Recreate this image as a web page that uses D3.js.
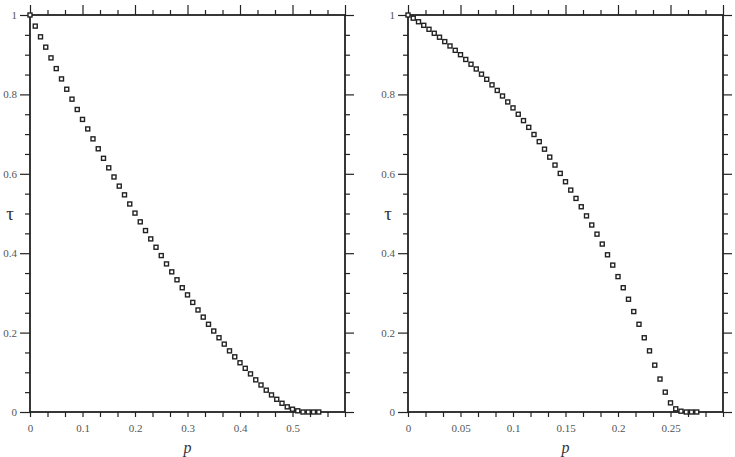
<!DOCTYPE html>
<html>
<head>
<meta charset="utf-8">
<script src="https://cdn.jsdelivr.net/npm/d3@7"></script>
<style>
  body { margin: 0; background: #fff; }
  svg { display: block; }
  .tick text { font-family: "Liberation Serif", "Times New Roman", Times, serif; font-size: 11px; fill: #555; }
  .tick line { stroke: #222; stroke-width: 1.2; }
  .domain { display: none; }
  .title { font-family: "Liberation Serif", "Times New Roman", Times, serif; fill: #333; }
</style>
</head>
<body>
<div id="chart"></div>
<script>
// left panel: tau vs p
const leftP = [0, 0.01, 0.02, 0.03, 0.04, 0.05, 0.06, 0.07, 0.08, 0.09,
  0.10, 0.11, 0.12, 0.13, 0.14, 0.15, 0.16, 0.17, 0.18, 0.19,
  0.20, 0.21, 0.22, 0.23, 0.24, 0.25, 0.26, 0.27, 0.28, 0.29,
  0.30, 0.31, 0.32, 0.33, 0.34, 0.35, 0.36, 0.37, 0.38, 0.39,
  0.40, 0.41, 0.42, 0.43, 0.44, 0.45, 0.46, 0.47, 0.48, 0.49,
  0.50, 0.51, 0.52, 0.53, 0.54, 0.55];
const leftTau = [1.000, 0.972, 0.945, 0.919, 0.892, 0.865, 0.839, 0.813, 0.788, 0.762,
  0.737, 0.713, 0.688, 0.663, 0.639, 0.615, 0.592, 0.569, 0.547, 0.524,
  0.501, 0.479, 0.457, 0.436, 0.415, 0.394, 0.373, 0.353, 0.333, 0.313,
  0.295, 0.276, 0.257, 0.239, 0.221, 0.204, 0.187, 0.171, 0.154, 0.139,
  0.124, 0.110, 0.096, 0.081, 0.068, 0.055, 0.043, 0.032, 0.022, 0.013,
  0.007, 0.003, 0, 0, 0, 0];

// right panel: tau vs p
const rightP = [0, 0.005, 0.010, 0.015, 0.020, 0.025, 0.030, 0.035, 0.040, 0.045,
  0.050, 0.055, 0.060, 0.065, 0.070, 0.075, 0.080, 0.085, 0.090, 0.095,
  0.100, 0.105, 0.110, 0.115, 0.120, 0.125, 0.130, 0.135, 0.140, 0.145,
  0.150, 0.155, 0.160, 0.165, 0.170, 0.175, 0.180, 0.185, 0.190, 0.195,
  0.200, 0.205, 0.210, 0.215, 0.220, 0.225, 0.230, 0.235, 0.240, 0.245,
  0.250, 0.255, 0.260, 0.265, 0.270, 0.275];
const rightTau = [1.000, 0.992, 0.983, 0.974, 0.964, 0.954, 0.944, 0.933, 0.922, 0.911,
  0.900, 0.888, 0.876, 0.864, 0.851, 0.838, 0.824, 0.810, 0.796, 0.781,
  0.766, 0.750, 0.734, 0.717, 0.699, 0.681, 0.662, 0.642, 0.622, 0.601,
  0.580, 0.559, 0.538, 0.517, 0.494, 0.471, 0.448, 0.423, 0.396, 0.370,
  0.341, 0.313, 0.284, 0.253, 0.221, 0.187, 0.154, 0.118, 0.083, 0.050,
  0.023, 0.008, 0.002, 0, 0, 0];

// tick values
const leftXMajor = [0, 0.1, 0.2, 0.3, 0.4, 0.5, 0.6];
const leftXLabels = ['0', '0.1', '0.2', '0.3', '0.4', '0.5', ''];
const rightXMajor = [0, 0.05, 0.1, 0.15, 0.2, 0.25, 0.3];
const rightXLabels = ['0', '0.05', '0.1', '0.15', '0.2', '0.25', ''];
const yMajor = [0, 0.2, 0.4, 0.6, 0.8, 1];
const yLabels = ['0', '0.2', '0.4', '0.6', '0.8', '1'];

const width = 735;
const height = 457;

const svg = d3.select('#chart')
  .append('svg')
  .attr('width', width)
  .attr('height', height);

function minorTicks(major, n) {
  const out = [];
  for (let i = 0; i < major.length - 1; i++) {
    const step = (major[i + 1] - major[i]) / n;
    for (let k = 1; k < n; k++) out.push(major[i] + k * step);
  }
  return out;
}

function drawPanel(left, right, xMax, xMajor, xLabels, ps, taus) {
  const top = 15;
  const bottom = 412;

  const x = d3.scaleLinear().domain([0, xMax]).range([left, right]);
  const y = d3.scaleLinear().domain([0, 1]).range([bottom, top]);
  const xMinor = minorTicks(xMajor, 3);
  const yMinor = minorTicks(yMajor, 4);

  const g = svg.append('g');

  // bottom axis
  g.append('g')
    .attr('transform', `translate(0,${bottom})`)
    .call(d3.axisBottom(x).tickValues(xMajor).tickSize(5).tickPadding(7)
      .tickFormat((d, i) => xLabels[i]));
  g.append('g')
    .attr('transform', `translate(0,${bottom})`)
    .call(d3.axisBottom(x).tickValues(xMinor).tickSize(5).tickFormat(''));

  // top axis
  g.append('g')
    .attr('transform', `translate(0,${top})`)
    .call(d3.axisTop(x).tickValues(xMajor).tickSize(10).tickFormat(''));
  g.append('g')
    .attr('transform', `translate(0,${top})`)
    .call(d3.axisTop(x).tickValues(xMinor).tickSize(5).tickFormat(''));

  // left axis
  g.append('g')
    .attr('transform', `translate(${left},0)`)
    .call(d3.axisLeft(y).tickValues(yMajor).tickSize(10).tickPadding(3)
      .tickFormat((d, i) => yLabels[i]));
  g.append('g')
    .attr('transform', `translate(${left},0)`)
    .call(d3.axisLeft(y).tickValues(yMinor).tickSize(5).tickFormat(''));

  // right axis
  g.append('g')
    .attr('transform', `translate(${right},0)`)
    .call(d3.axisRight(y).tickValues(yMajor).tickSize(9).tickFormat(''));
  g.append('g')
    .attr('transform', `translate(${right},0)`)
    .call(d3.axisRight(y).tickValues(yMinor).tickSize(5).tickFormat(''));

  // frame
  g.append('rect')
    .attr('x', left)
    .attr('y', top)
    .attr('width', right - left)
    .attr('height', bottom - top)
    .attr('fill', 'none')
    .attr('stroke', '#222')
    .attr('stroke-width', 1.8);

  // markers
  const s = 4;
  g.selectAll('.pt')
    .data(ps.map((p, i) => ({ p: p, t: taus[i] })))
    .enter()
    .append('rect')
    .attr('class', 'pt')
    .attr('x', d => x(d.p) - s / 2)
    .attr('y', d => y(d.t) - s / 2)
    .attr('width', s)
    .attr('height', s)
    .attr('fill', '#fff')
    .attr('stroke', '#222')
    .attr('stroke-width', 1.4);

  // axis titles
  g.append('text')
    .attr('class', 'title')
    .attr('x', left - 20)
    .attr('y', y(0.5) + 6)
    .attr('text-anchor', 'middle')
    .style('font-size', '19px')
    .text('τ');

  g.append('text')
    .attr('class', 'title')
    .attr('x', (left + right) / 2)
    .attr('y', 453)
    .attr('text-anchor', 'middle')
    .style('font-style', 'italic')
    .style('font-size', '16px')
    .text('p');
}

drawPanel(30, 345, 0.6, leftXMajor, leftXLabels, leftP, leftTau);
drawPanel(408, 723, 0.3, rightXMajor, rightXLabels, rightP, rightTau);
</script>
</body>
</html>
